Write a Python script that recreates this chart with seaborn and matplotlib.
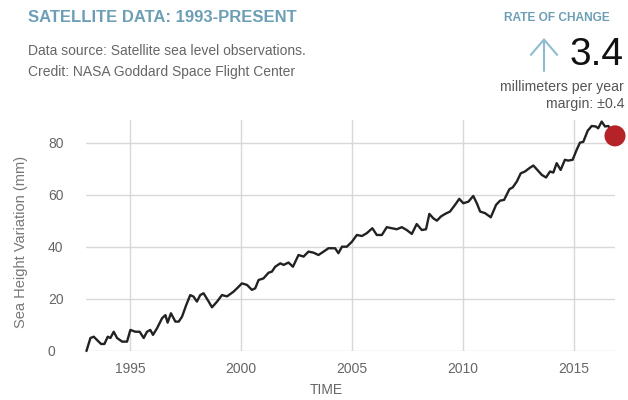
import matplotlib
matplotlib.use("Agg")
import matplotlib.pyplot as plt
import seaborn as sns
import pandas as pd
from matplotlib.patches import FancyArrowPatch

years = [1993.02, 1993.20, 1993.35, 1993.50, 1993.68, 1993.83, 1993.98, 1994.10, 1994.25, 1994.40,
         1994.63, 1994.85, 1995.00, 1995.23, 1995.42, 1995.60, 1995.75, 1995.90, 1996.02, 1996.20,
         1996.43, 1996.58, 1996.68, 1996.83, 1997.03, 1997.18, 1997.33, 1997.52, 1997.70, 1997.85,
         1998.00, 1998.15, 1998.30, 1998.53, 1998.68, 1998.91, 1999.13, 1999.36, 1999.65, 1999.81,
         2000.03, 2000.26, 2000.48, 2000.63, 2000.78, 2001.00, 2001.23, 2001.38, 2001.53, 2001.76,
         2001.91, 2002.13, 2002.33, 2002.58, 2002.81, 2003.03, 2003.26, 2003.48, 2003.71, 2003.93,
         2004.23, 2004.38, 2004.54, 2004.76, 2004.99, 2005.21, 2005.44, 2005.66, 2005.91, 2006.11,
         2006.34, 2006.56, 2006.79, 2007.01, 2007.24, 2007.46, 2007.69, 2007.91, 2008.14, 2008.33,
         2008.48, 2008.66, 2008.82, 2009.00, 2009.19, 2009.41, 2009.64, 2009.83, 2010.01, 2010.24,
         2010.46, 2010.62, 2010.77, 2010.99, 2011.25, 2011.49, 2011.67, 2011.85, 2012.09, 2012.24,
         2012.42, 2012.60, 2012.79, 2012.99, 2013.17, 2013.35, 2013.55, 2013.74, 2013.92, 2014.07,
         2014.22, 2014.40, 2014.59, 2014.74, 2014.94, 2015.12, 2015.27, 2015.42, 2015.62, 2015.80,
         2015.99, 2016.09, 2016.25, 2016.40, 2016.55, 2016.85]
height_mm = [0.0, 5.0, 5.5, 4.2, 2.7, 2.7, 5.5, 5.0, 7.4, 5.0,
             3.6, 3.6, 8.1, 7.4, 7.4, 5.0, 7.4, 8.1, 6.2, 8.7,
             12.6, 13.8, 10.9, 14.5, 11.3, 11.3, 13.2, 17.7, 21.5, 20.9,
             19.0, 21.5, 22.2, 19.0, 16.8, 19.0, 21.5, 21.0, 22.8, 24.1,
             26.0, 25.4, 23.5, 24.1, 27.3, 27.9, 30.1, 30.5, 32.4, 33.7,
             33.1, 34.0, 32.4, 36.9, 36.3, 38.2, 37.8, 36.9, 38.2, 39.5,
             39.5, 37.6, 40.1, 40.1, 42.0, 44.6, 44.2, 45.3, 47.2, 44.6,
             44.6, 47.6, 47.2, 46.8, 47.6, 46.5, 45.0, 48.8, 46.5, 46.8,
             52.7, 51.0, 50.1, 51.7, 52.7, 53.6, 56.2, 58.5, 56.8, 57.4,
             59.6, 56.8, 53.6, 53.0, 51.4, 56.2, 57.8, 58.1, 62.2, 62.9,
             65.1, 68.3, 69.0, 70.3, 71.3, 69.6, 67.7, 66.7, 69.0, 68.6,
             72.2, 69.6, 73.5, 73.2, 73.5, 77.3, 80.1, 80.4, 84.7, 86.5,
             86.3, 85.6, 88.2, 86.3, 86.5, 82.7]
x_ticks = [1995, 2000, 2005, 2010, 2015]
y_ticks = [0, 20, 40, 60, 80]

df = pd.DataFrame({"year": years, "mm": height_mm})
last = df.iloc[[-1]]

sns.set_style("whitegrid")
plt.rcParams["font.family"] = ["Liberation Sans", "DejaVu Sans"]

W, H = 628, 400
fig = plt.figure(figsize=(W / 100, H / 100), dpi=100)
ax = fig.add_axes([86 / W, (H - 351) / H, (615 - 86) / W, (351 - 120) / H])

sns.lineplot(data=df, x="year", y="mm", ax=ax, color="#222222", linewidth=1.7, clip_on=False)
sns.scatterplot(data=last, x="year", y="mm", ax=ax, color="#b52228", s=230, edgecolor="none",
                clip_on=False, zorder=5)

ax.set_xlim(1993.0, 2016.85)
ax.set_ylim(0, 88.8)
ax.set_xticks(x_ticks)
ax.set_yticks(y_ticks)
ax.set_xticklabels([str(t) for t in x_ticks])
ax.set_yticklabels([str(t) for t in y_ticks])
for s in ax.spines.values():
    s.set_visible(False)
ax.grid(True, color="#d8d8d8", linewidth=1.0)
ax.tick_params(axis="both", length=0, labelsize=10, labelcolor="#666666")
ax.tick_params(axis="y", pad=27.4)
for lab in ax.get_yticklabels():
    lab.set_horizontalalignment("left")
ax.tick_params(axis="x", pad=8)
ax.set_xlabel("")
ax.set_ylabel("Sea Height Variation (mm)", fontsize=10.5, color="#777777")
ax.yaxis.set_label_coords(-58 / (615 - 86), 0.47)

fig.text(326 / W, 1 - 390 / H, "TIME", ha="center", va="center", fontsize=10, color="#666666")

title_c = "#6c9fb6"
fig.text(28 / W, 1 - 18 / H, "SATELLITE DATA: 1993-PRESENT", ha="left", va="center",
         fontsize=12, fontweight="bold", color=title_c)
fig.text(28 / W, 1 - 51 / H, "Data source: Satellite sea level observations.", ha="left",
         va="center", fontsize=10, color="#666666")
fig.text(28 / W, 1 - 72 / H, "Credit: NASA Goddard Space Flight Center", ha="left",
         va="center", fontsize=10, color="#666666")

fig.text(610 / W, 1 - 18 / H, "RATE OF CHANGE", ha="right", va="center",
         fontsize=8.6, fontweight="bold", color=title_c)
fig.text(624 / W, 1 - 55 / H, "3.4", ha="right", va="center", fontsize=28, color="#111111")
arrow = FancyArrowPatch((544 / W, 1 - 71 / H), (544 / W, 1 - 38 / H),
                        transform=fig.transFigure, arrowstyle="->,head_length=11,head_width=9.5",
                        color="#8dbcd1", linewidth=1.5, mutation_scale=1,
                        shrinkA=0, shrinkB=0)
fig.add_artist(arrow)
fig.text(624 / W, 1 - 87 / H, "millimeters per year", ha="right", va="center",
         fontsize=10.2, color="#555555")
fig.text(624 / W, 1 - 104 / H, "margin: \u00b10.4", ha="right", va="center",
         fontsize=10.2, color="#555555")

fig.savefig("out.png", dpi=100)
